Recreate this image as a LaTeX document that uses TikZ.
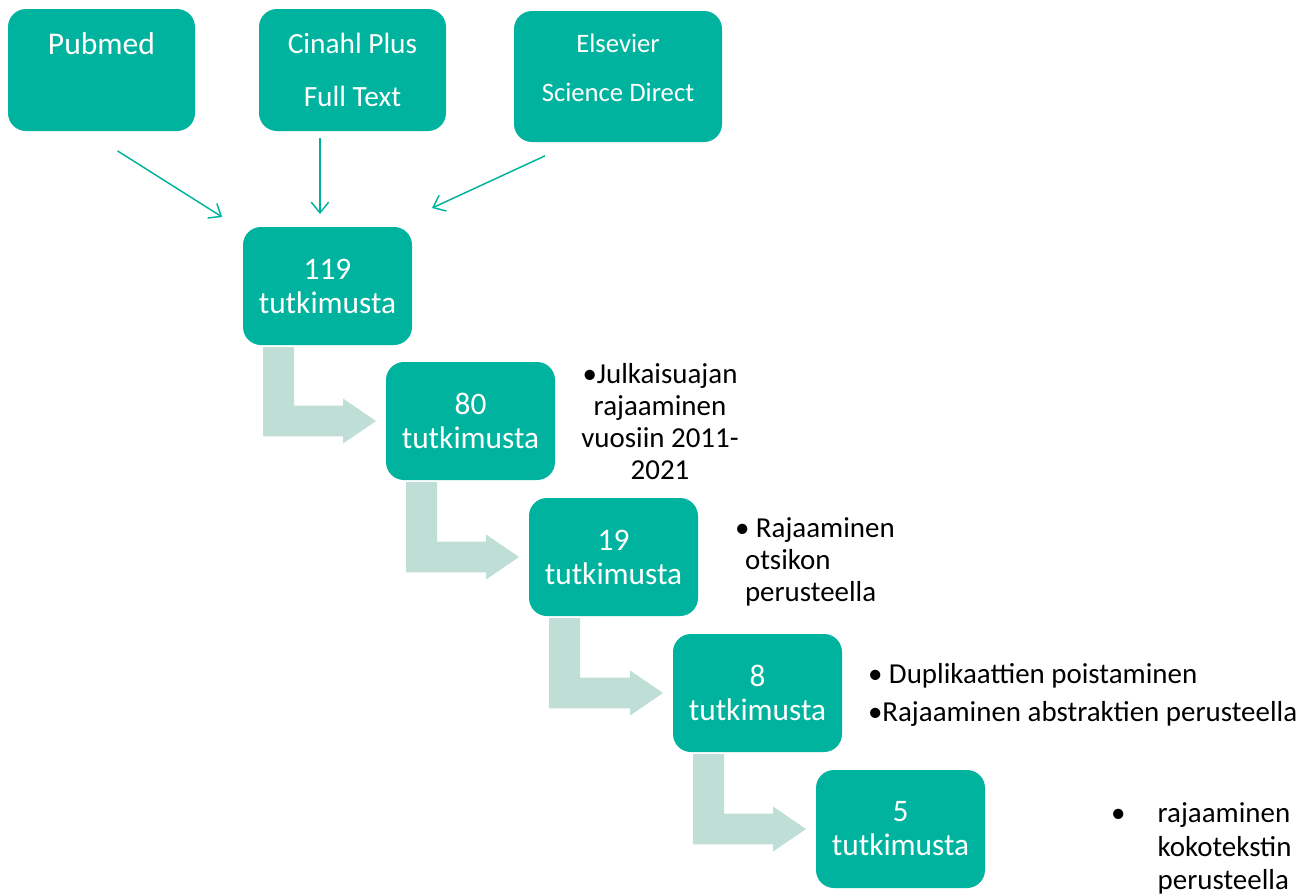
\documentclass[tikz,border=0pt]{standalone}
\usepackage{fontspec}
\setmainfont{Carlito}
\usetikzlibrary{
    arrows.meta,
    calc,
    positioning,
}
\definecolor{BoxTeal}{RGB}{0,179,158}
\definecolor{StepMint}{RGB}{190,222,214}
\tikzstyle{source}=[fill=BoxTeal,rounded corners=13.5pt,text=white,align=center,inner sep=0pt,outer sep=0pt]
\tikzstyle{count}=[fill=BoxTeal,rounded corners=13.5pt,text=white,align=center,inner sep=0pt,outer sep=0pt,minimum width=126.75pt,minimum height=88.5pt,font=\fontsize{23.5pt}{25.5pt}\selectfont]
\tikzstyle{note}=[inner sep=0pt,outer sep=0pt,font=\fontsize{21.7pt}{24pt}\selectfont]
\tikzstyle{feed}=[draw=BoxTeal,line width=1.1pt,-{Straight Barb[length=8pt,width=13pt]}]
\newcommand{\StepArrow}[2]{%
    \fill[StepMint] let \p1=(#1.south west), \p2=(#2.west) in
        (\x1+15pt,\y1-1.5pt) -- (\x1+38.25pt,\y1-1.5pt) -- (\x1+38.25pt,\y2+11.6pt)
        -- (\x2-32.25pt,\y2+11.6pt) -- (\x2-32.25pt,\y2+16.9pt) -- (\x2-7.5pt,\y2)
        -- (\x2-32.25pt,\y2-16.9pt) -- (\x2-32.25pt,\y2-11.6pt) -- (\x1+15pt,\y2-11.6pt) -- cycle;
}

\begin{document}
\begin{tikzpicture}[x=0.75pt,y=-0.75pt]
    \useasboundingbox (0,0) rectangle (1314,896);

    % Databases
    \node[source,minimum width=140.25pt,minimum height=91.5pt,font=\fontsize{23.7pt}{40pt}\selectfont] (pubmed) at (101.5,70) {Pubmed\\\mbox{}};
    \node[source,minimum width=140.25pt,minimum height=91.5pt,font=\fontsize{22pt}{40pt}\selectfont] (cinahl) at (352.5,70) {Cinahl Plus\\Full Text};
    \node[source,minimum width=156pt,minimum height=98.25pt,font=\fontsize{20pt}{36.75pt}\selectfont] (elsevier) at (618,76.5) {Elsevier\\Science Direct\rule[-12.75pt]{0pt}{0pt}};

    % Screening steps
    \node[count] (n119) at (327.5,286) {119\\tutkimusta};
    \node[count] (n80) at (470.5,421) {80\\tutkimusta};
    \node[count] (n19) at (613.5,557) {19\\tutkimusta};
    \node[count] (n8) at (757.5,693) {8\\tutkimusta};
    \node[count] (n5) at (900.5,829) {5\\tutkimusta};

    \draw[feed,shorten <=28pt,shorten >=14pt] ([xshift=-11.6pt]pubmed.south) -- ([xshift=-3.75pt]n119.north west);
    \draw[feed,shorten <=5.25pt,shorten >=9.75pt] ([xshift=-24.4pt]cinahl.south) -- ([xshift=-24.4pt]cinahl.south |- n119.north);
    \draw[feed,shorten <=24.8pt,shorten >=33.9pt] ([xshift=-32.25pt]elsevier.south) -- ([xshift=-15.75pt]n119.north east);

    \StepArrow{n119}{n80}
    \StepArrow{n80}{n19}
    \StepArrow{n19}{n8}
    \StepArrow{n8}{n5}

    % Criteria
    \node[note,anchor=north,align=center] (c80) at (660,363) {\textbullet Julkaisuajan\\rajaaminen\\vuosiin 2011-\\2021};
    \node[note,anchor=north west,align=left] (c19) at (735,518) {\textbullet\ Rajaaminen\\\hspace*{7.5pt}otsikon\\\hspace*{7.5pt}perusteella};
    \node[note,anchor=north west,align=left,font=\fontsize{21.7pt}{28.5pt}\selectfont] (c8) at (868,663) {\textbullet\ Duplikaattien poistaminen\\\textbullet Rajaaminen abstraktien perusteella};
    \node[note,anchor=north west,align=left,font=\fontsize{21.7pt}{25pt}\selectfont] (c5) at (1111,803) {\makebox[35pt][l]{\textbullet}rajaaminen\\\hspace*{35pt}kokotekstin\\\hspace*{35pt}perusteella};
\end{tikzpicture}
\end{document}
